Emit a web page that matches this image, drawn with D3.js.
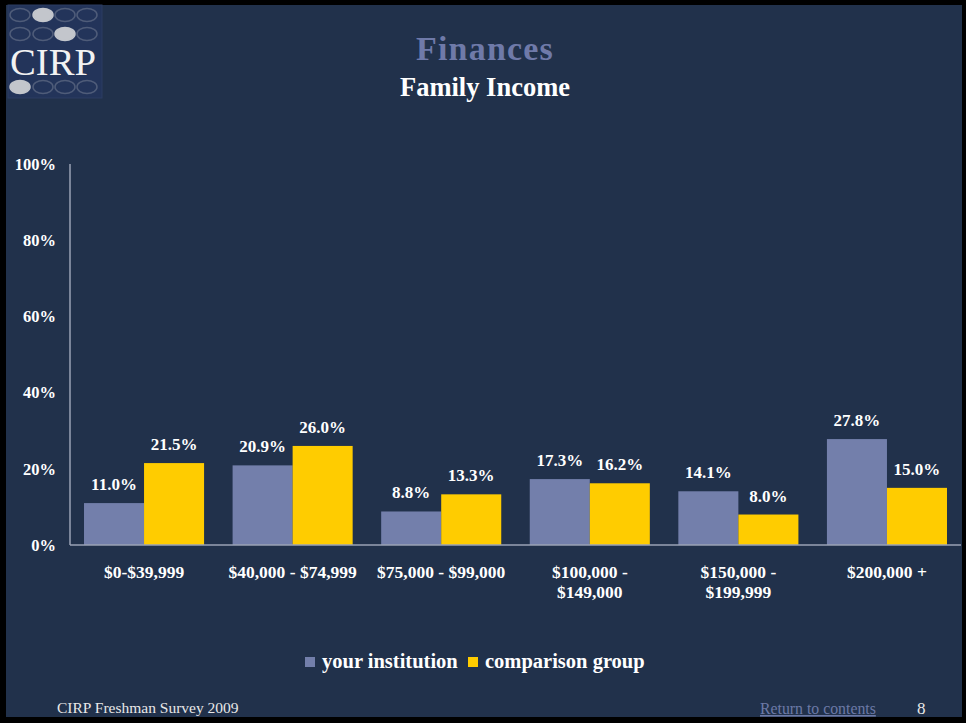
<!DOCTYPE html>
<html><head><meta charset="utf-8">
<script src="https://cdn.jsdelivr.net/npm/d3@7"></script>
<style>
html,body{margin:0;padding:0;background:#000;}
svg{display:block;}
text{font-family:"Liberation Serif","Times New Roman",serif;}
</style></head>
<body>
<svg id="chart" width="966" height="723"></svg>
<script>
const categories = ["$0-$39,999", "$40,000 - $74,999", "$75,000 - $99,000", "$100,000 -\n$149,000", "$150,000 -\n$199,999", "$200,000 +"];
const seriesNames = ["your institution", "comparison group"];
const yourInstitution = [11.0, 20.9, 8.8, 17.3, 14.1, 27.8];
const comparisonGroup = [21.5, 26.0, 13.3, 16.2, 8.0, 15.0];
const yTicks = [0, 20, 40, 60, 80, 100];
const colors = ["#737fab", "#ffcc00"];

const svg = d3.select("#chart");
const W = 966, H = 723;

// slide background with black frame
svg.append("rect").attr("x",0).attr("y",0).attr("width",W).attr("height",H).attr("fill","#000");
svg.append("rect").attr("x",6).attr("y",5).attr("width",956).attr("height",712).attr("fill","#21314b");

// logo
const logo = svg.append("g");
logo.append("rect").attr("x",8).attr("y",5).attr("width",94).attr("height",93)
  .attr("fill","#23345a").attr("stroke","#2c3d62").attr("stroke-width",1);
const pillRows = [{y:15, fill:1},{y:34, fill:2},{y:87, fill:0}];
const pillX = [20,43,65,87];
pillRows.forEach(r=>{
  pillX.forEach((cx,i)=>{
    logo.append("ellipse").attr("cx",cx).attr("cy",r.y).attr("rx",10).attr("ry",6.5)
      .attr("fill", i===r.fill ? "#c3c6cc" : "none")
      .attr("stroke", i===r.fill ? "#c3c6cc" : "#4f5c79").attr("stroke-width",1.5);
  });
});
logo.append("text").attr("x",53).attr("y",75).attr("text-anchor","middle")
  .attr("font-size",38).attr("fill","#f2f2f2").attr("textLength",86).attr("lengthAdjust","spacingAndGlyphs").text("CIRP");

// titles
svg.append("text").attr("x",485).attr("y",60).attr("text-anchor","middle")
  .attr("font-size",34).attr("font-weight","bold").attr("fill","#6f7aa9").attr("letter-spacing",1.2).text("Finances");
svg.append("text").attr("x",485).attr("y",96).attr("text-anchor","middle")
  .attr("font-size",26.5).attr("font-weight","bold").attr("fill","#ffffff").text("Family Income");

// scales
const x0 = d3.scaleBand().domain(categories).range([70,961]).paddingInner(28.5/148.5).paddingOuter(14/148.5);
const x1 = d3.scaleBand().domain(seriesNames).range([0,x0.bandwidth()]);
const y = d3.scaleLinear().domain([0,100]).range([545,164]);

// y tick labels
svg.append("g").selectAll("text").data(yTicks).join("text")
  .attr("x",56).attr("y",d=>y(d)).attr("dy","0.35em").attr("text-anchor","end")
  .attr("font-size",16.5).attr("font-weight","bold").attr("fill","#ffffff")
  .text(d=>d+"%");

// bars
const data = categories.map((c,i)=>({cat:c, vals:[yourInstitution[i], comparisonGroup[i]]}));
const groups = svg.append("g").selectAll("g").data(data).join("g")
  .attr("transform",d=>`translate(${x0(d.cat)},0)`);
groups.selectAll("rect").data(d=>d.vals.map((v,j)=>({v, s:seriesNames[j], j}))).join("rect")
  .attr("x",d=>x1(d.s)).attr("y",d=>y(d.v)).attr("width",x1.bandwidth()).attr("height",d=>y(0)-y(d.v))
  .attr("fill",d=>colors[d.j]);
groups.selectAll("text").data(d=>d.vals.map((v,j)=>({v, s:seriesNames[j], j}))).join("text")
  .attr("x",d=>x1(d.s)+x1.bandwidth()/2).attr("y",d=>y(d.v)-13)
  .attr("text-anchor","middle").attr("font-size",17).attr("font-weight","bold").attr("fill","#ffffff")
  .text(d=>d.v.toFixed(1)+"%");

// axes lines
svg.append("line").attr("x1",70).attr("x2",70).attr("y1",164).attr("y2",545).attr("stroke","#9aa2b4").attr("stroke-width",1.5);
svg.append("line").attr("x1",70).attr("x2",961).attr("y1",545).attr("y2",545).attr("stroke","#9aa2b4").attr("stroke-width",1.5);

// category labels
const catG = svg.append("g").selectAll("text").data(categories).join("text")
  .attr("x",d=>x0(d)+x0.bandwidth()/2).attr("y",578).attr("text-anchor","middle")
  .attr("font-size",17.5).attr("font-weight","bold").attr("fill","#ffffff");
catG.each(function(d){
  const t = d3.select(this);
  d.split("\n").forEach((line,i)=>{
    t.append("tspan").attr("x",x0(d)+x0.bandwidth()/2).attr("dy",i===0?0:20).text(line);
  });
});

// legend
const leg = svg.append("g");
const legItems = [{name:seriesNames[0], x:305, c:colors[0]},{name:seriesNames[1], x:468, c:colors[1]}];
legItems.forEach(it=>{
  leg.append("rect").attr("x",it.x).attr("y",657).attr("width",10).attr("height",10).attr("fill",it.c);
  leg.append("text").attr("x",it.x+17).attr("y",668).attr("font-size",20.5).attr("font-weight","bold").attr("fill","#ffffff").text(it.name);
});

// footer
svg.append("text").attr("x",57).attr("y",713).attr("font-size",15.5).attr("fill","#e8e8e8").text("CIRP Freshman Survey 2009");
svg.append("text").attr("x",760).attr("y",714).attr("font-size",15.8).attr("fill","#6c79a6")
  .attr("text-decoration","underline").text("Return to contents");
svg.append("text").attr("x",917).attr("y",714).attr("font-size",17).attr("fill","#e8e8e8").text("8");
</script>
</body></html>
